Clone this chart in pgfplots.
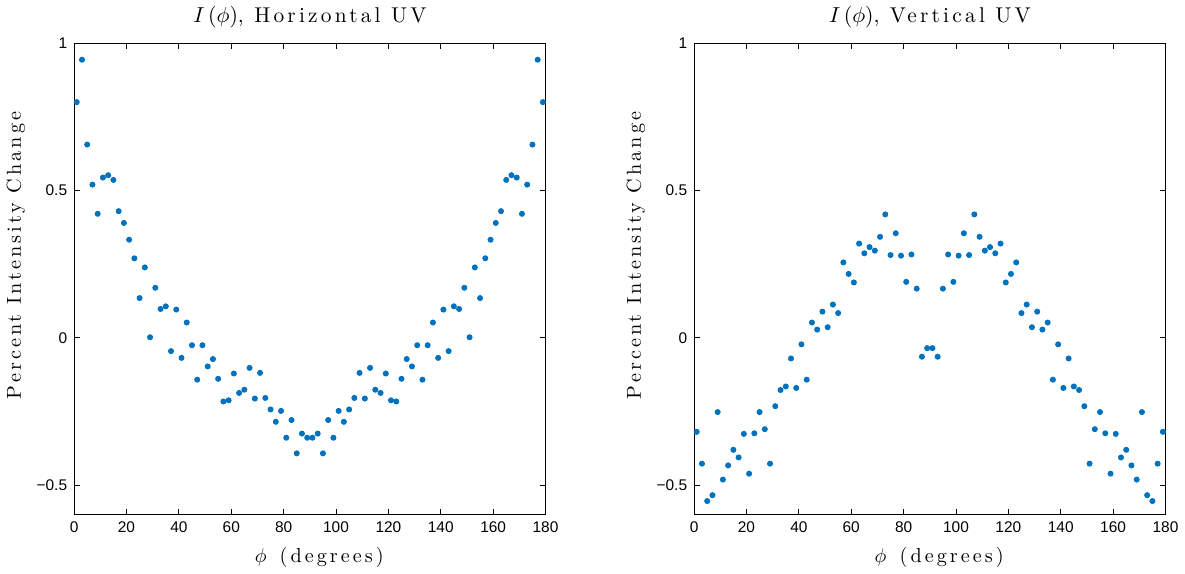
\documentclass[border=0pt]{standalone}
\usepackage{fontspec}
\usepackage{pgfplots}
\usepackage{pgfplotstable}
\pgfplotsset{compat=1.18}
\newfontfamily\tickfont{Liberation Sans}
\newfontfamily\lblfont{Latin Modern Roman}[LetterSpace=15]
\definecolor{mblue}{rgb}{0,0.447,0.741}

\pgfplotstableread{
x y
1 0.800
3 0.944
5 0.656
7 0.520
9 0.421
11 0.544
13 0.552
15 0.536
17 0.430
19 0.390
21 0.333
23 0.270
25 0.135
27 0.239
29 0.002
31 0.170
33 0.098
35 0.107
37 -0.045
39 0.096
41 -0.068
43 0.052
45 -0.025
47 -0.142
49 -0.025
51 -0.097
53 -0.072
55 -0.139
57 -0.216
59 -0.212
61 -0.121
63 -0.187
65 -0.176
67 -0.102
69 -0.206
71 -0.119
73 -0.204
75 -0.243
77 -0.285
79 -0.248
81 -0.339
83 -0.279
85 -0.392
87 -0.325
89 -0.339
91 -0.339
93 -0.325
95 -0.392
97 -0.279
99 -0.339
101 -0.248
103 -0.285
105 -0.243
107 -0.204
109 -0.119
111 -0.206
113 -0.102
115 -0.176
117 -0.187
119 -0.121
121 -0.212
123 -0.216
125 -0.139
127 -0.072
129 -0.097
131 -0.025
133 -0.142
135 -0.025
137 0.052
139 -0.068
141 0.096
143 -0.045
145 0.107
147 0.098
149 0.170
151 0.002
153 0.239
155 0.135
157 0.270
159 0.333
161 0.390
163 0.430
165 0.536
167 0.552
169 0.544
171 0.421
173 0.520
175 0.656
177 0.944
179 0.800
}\horiz

\pgfplotstableread{
x y
1 -0.319
3 -0.427
5 -0.554
7 -0.534
9 -0.252
11 -0.481
13 -0.433
15 -0.380
17 -0.406
19 -0.326
21 -0.461
23 -0.324
25 -0.252
27 -0.310
29 -0.427
31 -0.232
33 -0.177
35 -0.165
37 -0.070
39 -0.170
41 -0.022
43 -0.142
45 0.052
47 0.028
49 0.089
51 0.036
53 0.113
55 0.084
57 0.256
59 0.217
61 0.188
63 0.320
65 0.287
67 0.308
69 0.296
71 0.343
73 0.419
75 0.281
77 0.355
79 0.279
81 0.190
83 0.283
85 0.167
87 -0.064
89 -0.035
91 -0.035
93 -0.064
95 0.167
97 0.283
99 0.190
101 0.279
103 0.355
105 0.281
107 0.419
109 0.343
111 0.296
113 0.308
115 0.287
117 0.320
119 0.188
121 0.217
123 0.256
125 0.084
127 0.113
129 0.036
131 0.089
133 0.028
135 0.052
137 -0.142
139 -0.022
141 -0.170
143 -0.070
145 -0.165
147 -0.177
149 -0.232
151 -0.427
153 -0.310
155 -0.252
157 -0.324
159 -0.461
161 -0.326
163 -0.406
165 -0.380
167 -0.433
169 -0.481
171 -0.252
173 -0.534
175 -0.554
177 -0.427
179 -0.319
}\vert

\pgfplotsset{
  mstyle/.style={
    scale only axis,
    width=238pt, height=238pt,
    xmin=0, xmax=180, ymin=-0.6, ymax=1,
    xtick={0,20,...,180},
    ytick={-0.5,0,0.5,1},
    yticklabels={−0.5,0,0.5,1},
    tick align=inside,
    major tick length=3pt,
    tick style={black, line width=0.5pt},
    axis line style={black, line width=0.6pt},
    /pgf/number format/assume math mode=true,
    tick label style={font=\tickfont\fontsize{7.8}{9}\selectfont},
    label style={font=\lblfont\fontsize{10.2}{11}\selectfont},
    title style={font=\lblfont\fontsize{10.8}{12}\selectfont, yshift=-2pt},
    xlabel={$\phi$\, (degrees)},
    ylabel={Percent Intensity Change},
    every axis x label/.append style={at={(ticklabel cs:0.52)}, yshift=-0.5pt},
    every axis y label/.append style={at={(ticklabel cs:0.55)}, yshift=-1pt},
  },
  mdots/.style={only marks, mark=*, mark size=1.3pt, mark options={fill=mblue, draw=mblue}},
}

\begin{document}
\begin{tikzpicture}
\begin{axis}[mstyle, at={(0,0)}, title={$I\,(\phi)$, Horizontal UV}]
\addplot[mdots] table[x=x, y=y] {\horiz};
\end{axis}
\begin{axis}[mstyle, at={(313pt,0)}, title={$I\,(\phi)$, Vertical UV}]
\addplot[mdots] table[x=x, y=y] {\vert};
\end{axis}
\end{tikzpicture}
\end{document}
